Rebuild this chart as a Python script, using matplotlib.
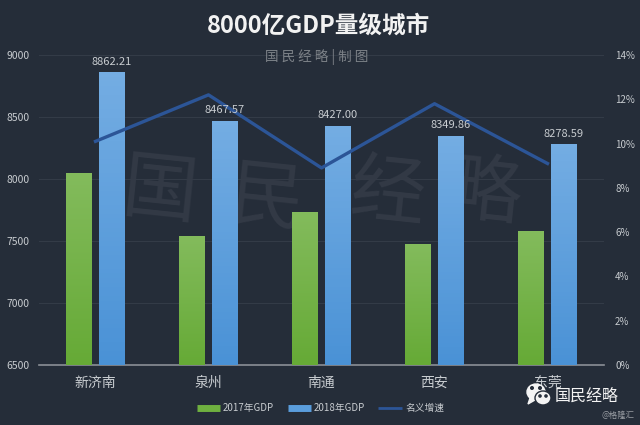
import numpy as np
import matplotlib
matplotlib.use('Agg')
import matplotlib.pyplot as plt
from matplotlib.patches import Ellipse, Polygon

plt.rcParams['font.family'] = ['Noto Sans CJK SC', 'DejaVu Sans']

cities = ['新济南', '泉州', '南通', '西安', '东莞']
gdp_2017 = [8048, 7540, 7730, 7472, 7580]
gdp_2018 = [8862.21, 8467.57, 8427.00, 8349.86, 8278.59]
growth = [10.1, 12.2, 8.9, 11.8, 9.1]
left_ticks = [6500, 7000, 7500, 8000, 8500, 9000]
right_ticks = [0, 2, 4, 6, 8, 10, 12, 14]

bg = '#252d39'
text_col = '#c8ccd0'
W, H = 640, 425

fig = plt.figure(figsize=(6.4, 4.25), dpi=100, facecolor=bg)
ax = fig.add_axes([39 / W, 1 - 365 / H, 565 / W, 310 / H], facecolor=bg)
x = np.arange(len(cities))
offset = 0.145
width = 0.23


def gradient_bars(ax, xs, values, top, bottom):
    # each bar gets a vertical fade, clipped to its own rectangle
    bars = ax.bar(xs, values, width, bottom=0, color='none', zorder=3)
    fade = np.linspace(0, 1, 64)[:, None, None]
    colors = (1 - fade) * np.array(matplotlib.colors.to_rgb(top)) + fade * np.array(matplotlib.colors.to_rgb(bottom))
    for b in bars:
        im = ax.imshow(colors, extent=[b.get_x(), b.get_x() + b.get_width(), 6500, b.get_height()],
                       aspect='auto', zorder=3)
        im.set_clip_path(b)
    return bars


gradient_bars(ax, x - offset, gdp_2017, '#83bb5c', '#66aa36')
gradient_bars(ax, x + offset, gdp_2018, '#74ade3', '#4a92d6')

ax.set_xlim(-0.5, 4.5)
ax.set_ylim(6500, 9000)
ax.set_yticks(left_ticks)
ax.set_xticks(x)
ax.set_xticklabels(cities, fontsize=10, color=text_col)
ax.tick_params(axis='y', length=0, labelsize=7.5, labelcolor=text_col, pad=7)
ax.tick_params(axis='x', length=0, pad=8)
ax.grid(axis='y', color='#343c48', lw=0.7, zorder=0)
ax.set_axisbelow(True)
for s in ['top', 'left', 'right']:
    ax.spines[s].set_visible(False)
ax.spines['bottom'].set_color('#8a8f96')
ax.spines['bottom'].set_linewidth(1.2)

# big faint watermark, sits behind the bars
for ch, px, py in [('国', 160, 193), ('民', 267, 200), ('经', 387, 195), ('略', 483, 195)]:
    ax.text(px / W, 1 - py / H, ch, transform=fig.transFigure, ha='center', va='center', rotation=-6,
            fontsize=54, color='#333a46', zorder=1)

ax2 = ax.twinx()
ax2.set_ylim(0, 14)
ax2.set_yticks(right_ticks)
ax2.set_yticklabels([f'{t}%' for t in right_ticks])
ax2.tick_params(axis='y', length=0, labelsize=7, labelcolor=text_col, pad=8)
for s in ax2.spines.values():
    s.set_visible(False)
ax2.plot(x, growth, color='#2c5597', lw=2.4, zorder=5)

# labels go on the top axes so they print over the line
for i, v in enumerate(gdp_2018):
    ax2.annotate(f'{v:.2f}', (x[i] + offset, v), xycoords=ax.transData, xytext=(0, 4),
                 textcoords='offset points', ha='center', va='bottom', fontsize=8, color=text_col, zorder=6)

# title and stamp
fig.text(319 / W, 1 - 26 / H, '8000亿GDP量级城市', ha='center', va='center',
         fontsize=17, fontweight='bold', color='#f2f2f2')
fig.text(317 / W, 1 - 57 / H, '国 民 经 略 | 制 图', ha='center', va='center',
         fontsize=9.8, color='#7d8288', zorder=7)

# legend
leg_y = 1 - 408 / H
items = [(197, 220, '#6fb040', 5, '2017年GDP', 223), (288, 311, '#5a9ddc', 5, '2018年GDP', 314),
         (378, 402, '#2c5597', 2, '名义增速', 405)]
for x0, x1, col, lw, label, tx in items:
    fig.add_artist(plt.Line2D([x0 / W, x1 / W], [leg_y, leg_y], color=col, lw=lw, solid_capstyle='butt'))
    fig.text(tx / W, leg_y, label, ha='left', va='center', fontsize=7, color=text_col)

# wechat badge, bottom right
badge = fig.add_axes([0, 0, 1, 1], facecolor='none', zorder=11)
badge.set_xlim(0, W)
badge.set_ylim(H, 0)
badge.axis('off')
badge.add_patch(Ellipse((536, 392), 18, 16, color='#f4f4f4'))
badge.add_patch(Polygon([[530, 398], [528, 404], [535, 400]], color='#f4f4f4'))
badge.add_patch(Ellipse((543, 398), 16, 14, fc='#f4f4f4', ec=bg, lw=1))
for px, py, r in [(532, 388, 1.3), (540, 388, 1.3), (540, 396, 1.1), (546, 396, 1.1)]:
    badge.add_patch(Ellipse((px, py), r * 2, r * 2, color=bg))
badge.text(555, 396, '国民经略', ha='left', va='center', fontsize=11.5, color='#f4f4f4')
badge.text(634, 415, '@格隆汇', ha='right', va='center', fontsize=6, color='#9a9ea4')

fig.savefig('out.png', dpi=100, facecolor=bg)
